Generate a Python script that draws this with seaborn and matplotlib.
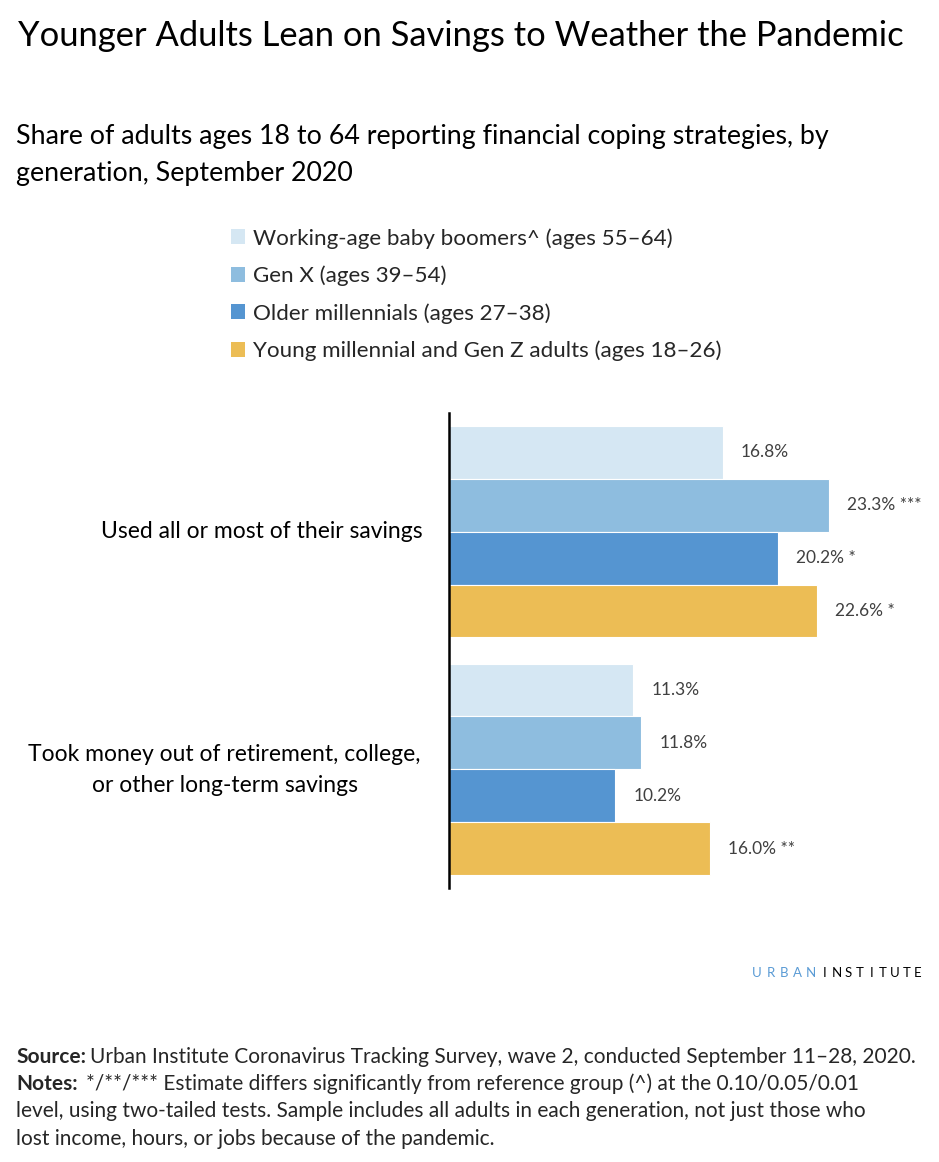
import matplotlib
matplotlib.use("Agg")
import matplotlib.pyplot as plt
import seaborn as sns
import pandas as pd
from matplotlib.patches import Patch

categories = ["Used all or most of their savings",
              "Took money out of retirement, college,\nor other long-term savings"]
generations = ["Working-age baby boomers^ (ages 55\u201364)",
               "Gen X (ages 39\u201354)",
               "Older millennials (ages 27\u201338)",
               "Young millennial and Gen Z adults (ages 18\u201326)"]
boomers = [16.8, 11.3]
genx = [23.3, 11.8]
older_mill = [20.2, 10.2]
young = [22.6, 16.0]
sig_boomers = ["", ""]
sig_genx = ["***", ""]
sig_older = ["*", ""]
sig_young = ["*", "**"]
colors = ["#D5E7F3", "#8EBDDF", "#5595D1", "#ECBD55"]

rows = []
for g, vals, sigs in zip(generations, [boomers, genx, older_mill, young],
                         [sig_boomers, sig_genx, sig_older, sig_young]):
    for c, v, s in zip(categories, vals, sigs):
        rows.append({"category": c, "generation": g, "value": v, "sig": s})
df = pd.DataFrame(rows)

sns.set_theme(style="white")
plt.rcParams["font.family"] = ["Lato", "DejaVu Sans"]

W, H = 939, 1162
fig = plt.figure(figsize=(W / 100, H / 100), dpi=100)
ax = fig.add_axes([449 / W, (H - 888) / H, (920 - 449) / W, (888 - 413) / H])

sns.barplot(data=df, y="category", x="value", hue="generation",
            hue_order=generations, order=categories, palette=colors,
            orient="h", width=0.89, ax=ax, legend=False,
            edgecolor="white", linewidth=0.8, saturation=1)

ax.set_xlim(0, 471 / 16.3)
ax.set_ylim(1.5, -0.5)
ax.set_xlabel("")
ax.set_ylabel("")
ax.set_xticks([])
ax.set_yticks([])
for s in ["top", "right", "bottom"]:
    ax.spines[s].set_visible(False)
ax.spines["left"].set_color("black")
ax.spines["left"].set_linewidth(1.8)

# value labels
for cont, gen in zip(ax.containers, generations):
    sub = df[df.generation == gen].set_index("category").loc[categories]
    labels = [f"{v:.1f}%" + (f" {s}" if s else "") for v, s in zip(sub.value, sub.sig)]
    ax.bar_label(cont, labels=labels, padding=13, fontsize=12.5, color="#404040")

# category labels
fig.text(423 / W, 1 - 532 / H, categories[0], ha="right", va="center",
         fontsize=16.5, color="black")
fig.text(224.5 / W, 1 - 770 / H, categories[1], ha="center", va="center",
         fontsize=16.5, color="black", linespacing=1.6, multialignment="center")

# title / subtitle
fig.text(18 / W, 1 - 36 / H, "Younger Adults Lean on Savings to Weather the Pandemic",
         ha="left", va="center", fontsize=24.8, color="black")
fig.text(16 / W, 1 - 155 / H,
         "Share of adults ages 18 to 64 reporting financial coping strategies, by\ngeneration, September 2020",
         ha="left", va="center", fontsize=19.3, color="black", linespacing=1.58)

# legend
handles = [Patch(facecolor=c, edgecolor="none") for c in colors]
fig.legend(handles, generations, loc="upper left",
           bbox_to_anchor=(222 / W, 1 - 219 / H), frameon=False,
           fontsize=16.1, handlelength=0.65, handleheight=0.65,
           handletextpad=0.35, labelspacing=0.76, borderaxespad=0)

# branding (letter-spaced)
for i, ch in enumerate("URBAN"):
    fig.text((757 + i * 13.5) / W, 1 - 973 / H, ch, ha="center", va="center",
             fontsize=9.5, color="#5A9BD5")
for i, ch in enumerate("INSTITUTE"):
    fig.text((825 + i * 11.6) / W, 1 - 973 / H, ch, ha="center", va="center",
             fontsize=9.5, color="black")

# source / notes
fs = 15
t = fig.text(16 / W, 1 - 1057 / H, "Source:", ha="left", va="center",
             fontsize=fs, fontweight="bold")
fig.canvas.draw()
bb = t.get_window_extent()
fig.text((bb.x1 + 4) / W, 1 - 1057 / H,
         "Urban Institute Coronavirus Tracking Survey, wave 2, conducted September 11\u201328, 2020.",
         ha="left", va="center", fontsize=fs)
t2 = fig.text(16 / W, 1 - 1084 / H, "Notes:", ha="left", va="center",
              fontsize=fs, fontweight="bold")
fig.canvas.draw()
bb2 = t2.get_window_extent()
fig.text((bb2.x1 + 8) / W, 1 - 1084 / H,
         "*/**/*** Estimate differs significantly from reference group (^) at the 0.10/0.05/0.01",
         ha="left", va="center", fontsize=fs)
fig.text(16 / W, 1 - 1111 / H,
         "level, using two-tailed tests. Sample includes all adults in each generation, not just those who",
         ha="left", va="center", fontsize=fs)
fig.text(16 / W, 1 - 1139 / H,
         "lost income, hours, or jobs because of the pandemic.",
         ha="left", va="center", fontsize=fs)

fig.savefig("out.png", dpi=100)
